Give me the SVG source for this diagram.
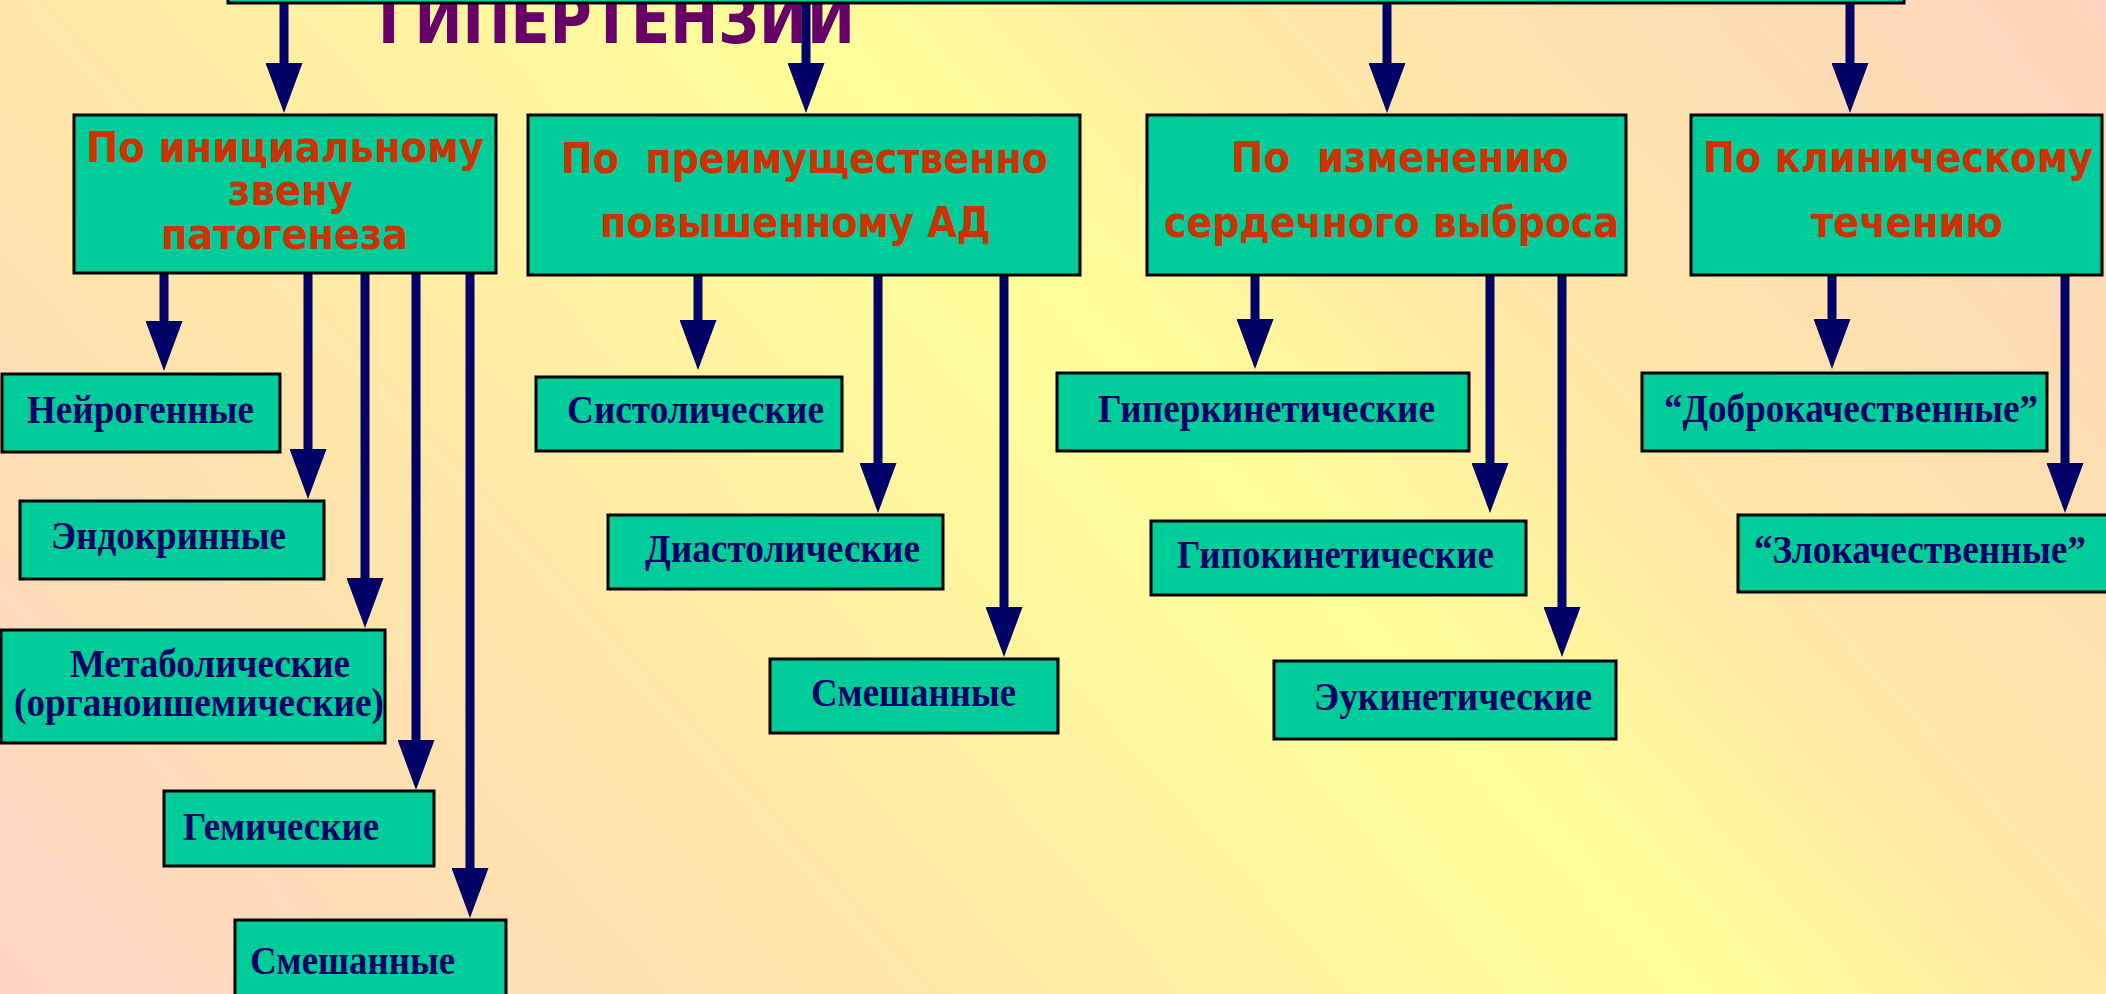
<svg xmlns="http://www.w3.org/2000/svg" width="2106" height="994" viewBox="0 0 2106 994">
<defs>
<linearGradient id="bg" gradientUnits="userSpaceOnUse" x1="-116" y1="920" x2="1593" y2="-619">
<stop offset="0" stop-color="#FFD3C8"/>
<stop offset="0.3" stop-color="#FFE6A8"/>
<stop offset="0.45" stop-color="#FFF5A0"/>
<stop offset="0.565" stop-color="#FFFF99"/>
<stop offset="0.69" stop-color="#FFE9A5"/>
<stop offset="1" stop-color="#FFD3C0"/>
</linearGradient>
<marker id="ah" markerUnits="userSpaceOnUse" markerWidth="50" markerHeight="37" viewBox="0 -18.5 50 37" refX="0" refY="0" orient="auto">
<path d="M0,-18.5 L50,0 L0,18.5 Z" fill="#000066"/>
</marker>
<style>
.box{fill:#00CC99;stroke:#000;stroke-width:3}
.cat{font-family:"DejaVu Sans Condensed","DejaVu Sans",sans-serif;font-weight:bold;font-size:42px;fill:#CC3300}
.leaf{font-family:"Liberation Serif","Times New Roman",serif;font-weight:bold;font-size:40px;fill:#000066}
.title{font-family:"DejaVu Sans Condensed","DejaVu Sans",sans-serif;font-weight:bold;font-size:68px;fill:#660066}
.conn line{stroke:#000066;stroke-width:9;marker-end:url(#ah)}
</style>
</defs>
<rect x="0" y="0" width="2106" height="994" fill="url(#bg)"/>
<text class="title" x="378" y="43" textLength="477" lengthAdjust="spacingAndGlyphs">ГИПЕРТЕНЗИИ</text>
<g id="top">
<rect class="box" x="228" y="-100" width="1676" height="103"/>
</g>
<g class="conn" id="connectors">
<line x1="284" y1="4" x2="284" y2="63"/>
<line x1="806" y1="4" x2="806" y2="63"/>
<line x1="1387" y1="4" x2="1387" y2="63"/>
<line x1="1850" y1="4" x2="1850" y2="63"/>
<line x1="164" y1="273" x2="164" y2="321"/>
<line x1="308" y1="273" x2="308" y2="449"/>
<line x1="365" y1="273" x2="365" y2="578"/>
<line x1="416" y1="273" x2="416" y2="740"/>
<line x1="470" y1="273" x2="470" y2="868"/>
<line x1="698" y1="275" x2="698" y2="320"/>
<line x1="878" y1="275" x2="878" y2="463"/>
<line x1="1004" y1="275" x2="1004" y2="607"/>
<line x1="1255" y1="275" x2="1255" y2="319"/>
<line x1="1490" y1="275" x2="1490" y2="463"/>
<line x1="1562" y1="275" x2="1562" y2="607"/>
<line x1="1832" y1="275" x2="1832" y2="319"/>
<line x1="2065" y1="275" x2="2065" y2="463"/>
</g>
<g id="cat1">
<rect class="box" x="74" y="115" width="422" height="158"/>
<text class="cat" x="86" y="162" textLength="398" lengthAdjust="spacingAndGlyphs">По инициальному</text>
<text class="cat" x="228" y="205" textLength="125" lengthAdjust="spacingAndGlyphs">звену</text>
<text class="cat" x="161" y="249" textLength="247" lengthAdjust="spacingAndGlyphs">патогенеза</text>
</g>
<g id="cat2">
<rect class="box" x="528" y="115" width="552" height="160"/>
<text class="cat" x="561" y="173" textLength="487" lengthAdjust="spacingAndGlyphs" xml:space="preserve">По  преимущественно</text>
<text class="cat" x="600" y="237" textLength="391" lengthAdjust="spacingAndGlyphs">повышенному АД</text>
</g>
<g id="cat3">
<rect class="box" x="1147" y="115" width="479" height="160"/>
<text class="cat" x="1231" y="172" textLength="338" lengthAdjust="spacingAndGlyphs" xml:space="preserve">По  изменению</text>
<text class="cat" x="1164" y="237" textLength="455" lengthAdjust="spacingAndGlyphs">сердечного выброса</text>
</g>
<g id="cat4">
<rect class="box" x="1691" y="115" width="411" height="160"/>
<text class="cat" x="1703" y="172" textLength="390" lengthAdjust="spacingAndGlyphs">По клиническому</text>
<text class="cat" x="1811" y="237" textLength="192" lengthAdjust="spacingAndGlyphs">течению</text>
</g>
<g id="neuro">
<rect class="box" x="2" y="374" width="278" height="78"/>
<text class="leaf" x="27" y="423" textLength="227" lengthAdjust="spacingAndGlyphs">Нейрогенные</text>
</g>
<g id="endo">
<rect class="box" x="20" y="501" width="304" height="78"/>
<text class="leaf" x="51" y="549" textLength="235" lengthAdjust="spacingAndGlyphs">Эндокринные</text>
</g>
<g id="metab">
<rect class="box" x="1" y="630" width="384" height="113"/>
<text class="leaf" x="70" y="677" textLength="280" lengthAdjust="spacingAndGlyphs">Метаболические</text>
<text class="leaf" x="14" y="716" textLength="370" lengthAdjust="spacingAndGlyphs">(органоишемические)</text>
</g>
<g id="hemic">
<rect class="box" x="164" y="791" width="270" height="75"/>
<text class="leaf" x="183" y="840" textLength="196" lengthAdjust="spacingAndGlyphs">Гемические</text>
</g>
<g id="mixed1">
<rect class="box" x="235" y="920" width="271" height="100"/>
<text class="leaf" x="250" y="974" textLength="205" lengthAdjust="spacingAndGlyphs">Смешанные</text>
</g>
<g id="systolic">
<rect class="box" x="536" y="377" width="306" height="74"/>
<text class="leaf" x="567" y="423" textLength="257" lengthAdjust="spacingAndGlyphs">Систолические</text>
</g>
<g id="diastolic">
<rect class="box" x="608" y="515" width="335" height="74"/>
<text class="leaf" x="645" y="562" textLength="275" lengthAdjust="spacingAndGlyphs">Диастолические</text>
</g>
<g id="mixed2">
<rect class="box" x="770" y="659" width="288" height="74"/>
<text class="leaf" x="811" y="706" textLength="205" lengthAdjust="spacingAndGlyphs">Смешанные</text>
</g>
<g id="hyper">
<rect class="box" x="1057" y="373" width="412" height="78"/>
<text class="leaf" x="1098" y="422" textLength="337" lengthAdjust="spacingAndGlyphs">Гиперкинетические</text>
</g>
<g id="hypo">
<rect class="box" x="1151" y="521" width="375" height="74"/>
<text class="leaf" x="1177" y="568" textLength="317" lengthAdjust="spacingAndGlyphs">Гипокинетические</text>
</g>
<g id="eu">
<rect class="box" x="1274" y="661" width="342" height="78"/>
<text class="leaf" x="1314" y="710" textLength="278" lengthAdjust="spacingAndGlyphs">Эукинетические</text>
</g>
<g id="benign">
<rect class="box" x="1642" y="373" width="405" height="78"/>
<text class="leaf" x="1664" y="422" textLength="374" lengthAdjust="spacingAndGlyphs">“Доброкачественные”</text>
</g>
<g id="malignant">
<rect class="box" x="1738" y="515" width="380" height="77"/>
<text class="leaf" x="1754" y="563" textLength="332" lengthAdjust="spacingAndGlyphs">“Злокачественные”</text>
</g>
</svg>
